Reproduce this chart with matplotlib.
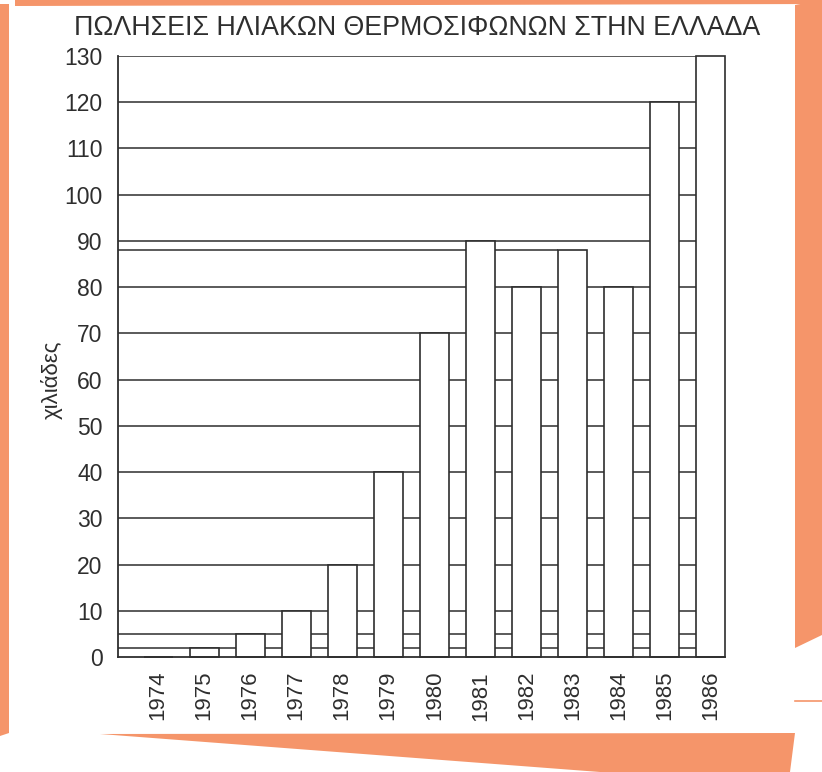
import matplotlib
matplotlib.use('Agg')
import matplotlib.pyplot as plt
from matplotlib.patches import Polygon
from matplotlib.lines import Line2D

plt.rcParams['font.family'] = ['Liberation Sans', 'DejaVu Sans']

# data (thousands of units sold)
years = ['1974', '1975', '1976', '1977', '1978', '1979', '1980',
         '1981', '1982', '1983', '1984', '1985', '1986']
sales = [0, 2, 5, 10, 20, 40, 70, 90, 80, 88, 80, 120, 130]
grid_levels = [2, 5, 10, 20, 30, 40, 50, 60, 70, 80, 90, 100, 110, 120, 130]
y_ticks = list(range(0, 131, 10))

title = 'ΠΩΛΗΣΕΙΣ ΗΛΙΑΚΩΝ ΘΕΡΜΟΣΙΦΩΝΩΝ ΣΤΗΝ ΕΛΛΑΔΑ'
ylabel = 'χιλιάδες'

W, H = 822, 772
ink = '#2e2e2e'
orange = '#f5956a'

fig = plt.figure(figsize=(W / 100, H / 100), dpi=100)
fig.patch.set_facecolor('white')


def px(x, y):
    # pixel coords (from top-left) -> figure fraction
    return (x / W, 1 - y / H)


# orange frame around the scanned page
frame = [
    [(0, 4), (9, 4), (9, 733), (0, 736)],
    [(15, 0), (822, 0), (822, 4), (15, 6)],
    [(795, 5), (822, 0), (822, 635), (795, 648)],
    [(100, 734), (795, 733), (790, 772), (600, 772)],
]
for pts in frame:
    fig.add_artist(Polygon([px(*p) for p in pts], closed=True,
                           transform=fig.transFigure, facecolor=orange,
                           edgecolor='none', zorder=0))
fig.add_artist(Line2D([795 / W, 1], [1 - 701 / H] * 2, transform=fig.transFigure,
                      color=orange, lw=1.2))

# axes placed so that 0..130 and the bars line up with the scan
ax = fig.add_axes([118 / W, 1 - 657 / H, (725 - 118) / W, (657 - 56) / H])
ax.set_facecolor('none')

bar_w = 0.63
x = list(range(len(years)))
x_left = -0.87
x_right = x[-1] + bar_w / 2

# horizontal guide lines run behind the bars, showing up in the gaps
ax.hlines(grid_levels, x_left, x_right, colors=ink, linewidth=1.1, zorder=1)
# 1983 level drawn back to the axis as well
ax.hlines(sales[9], x_left, x[9] - bar_w / 2, colors=ink, linewidth=1.1, zorder=1)

bars = ax.bar(x, sales, width=bar_w, color='white', edgecolor=ink,
              linewidth=1.2, zorder=3)
for b in bars:
    b.set_clip_on(False)

ax.set_xlim(x_left, x_right)
ax.set_ylim(0, 130)

for s in ['top', 'right']:
    ax.spines[s].set_visible(False)
for s in ['left', 'bottom']:
    ax.spines[s].set_color(ink)
    ax.spines[s].set_linewidth(1.3)
    ax.spines[s].set_zorder(4)

ax.set_yticks(y_ticks)
ax.set_yticklabels([str(v) for v in y_ticks], fontsize=16.5, color=ink)
ax.set_xticks(x)
ax.set_xticklabels(years, rotation=90, fontsize=16, color=ink)
ax.tick_params(axis='y', length=0, pad=11)
ax.tick_params(axis='x', length=0, pad=10)

fig.text(*px(52, 380), ylabel, rotation=90, fontsize=16, color=ink,
         ha='center', va='center')
fig.text(*px(417, 28), title, fontsize=19.3, color=ink,
         ha='center', va='center')

fig.savefig('out.png', dpi=100)
